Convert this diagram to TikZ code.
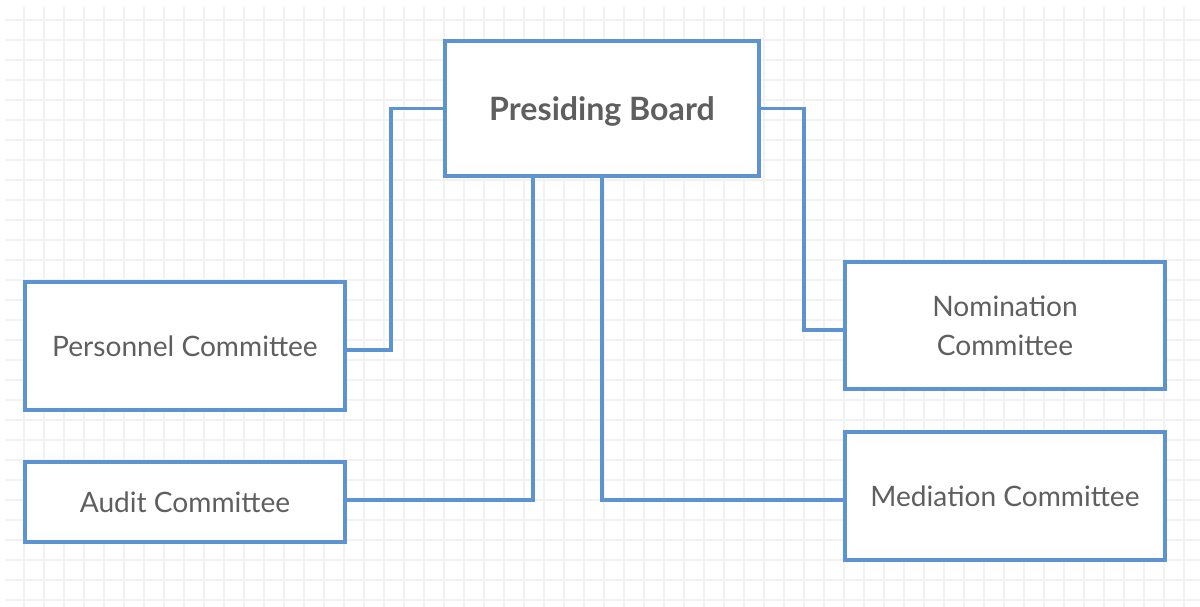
\documentclass[tikz,border=0pt]{standalone}
\usepackage{fontspec}
\setmainfont{Lato}
\definecolor{boxblue}{RGB}{92,147,208}
\definecolor{textgray}{RGB}{95,95,95}
\definecolor{gridgray}{RGB}{242,242,242}
\tikzset{
  unit/.style={draw=boxblue, line width=2.1pt, fill=white, text=textgray,
    inner sep=0pt, align=center, font=\fontsize{16}{22}\selectfont},
  link/.style={draw=boxblue, line width=2.1pt}
}
\begin{document}
\begin{tikzpicture}[x=0.02cm, y=-0.02cm]
    \useasboundingbox (0,0) rectangle (1200,607);
    % Cuadrícula
    \fill[white] (0,0) rectangle (1200,607);
    \begin{scope}
      \clip (5,7) rectangle (1200,607);
      \foreach \gx in {24,44,...,1184} \draw[gridgray, line width=0.6pt] (\gx,7) -- (\gx,607);
      \foreach \gy in {20,40,...,600} \draw[gridgray, line width=0.6pt] (5,\gy) -- (1200,\gy);
    \end{scope}

    % Comités
    \node[unit, minimum width=6.28cm, minimum height=2.7cm, text depth=0pt,
      font=\fontsize{18.3}{22}\selectfont\bfseries] (board) at (602,108.5) {Presiding Board};
    \node[unit, minimum width=6.4cm, minimum height=2.56cm] (personnel) at (185,346) {Personnel Committee};
    \node[unit, minimum width=6.4cm, minimum height=1.6cm] (audit) at (185,502) {Audit Committee};
    \node[unit, minimum width=6.4cm, minimum height=2.54cm] (nomination) at (1005,325.5) {Nomination\\Committee};
    \node[unit, minimum width=6.4cm, minimum height=2.56cm] (mediation) at (1005,496) {Mediation Committee};

    % Conexiones
    \draw[link] (board.west) -- ++(-52,0) |- ([yshift=-0.08cm]personnel.east);
    \draw[link] ([xshift=-1.38cm]board.south) |- ([yshift=0.04cm]audit.east);
    \draw[link] (board.south) |- ([yshift=-0.08cm]mediation.west);
    \draw[link] (board.east) -- ++(43,0) |- ([yshift=-0.09cm]nomination.west);
\end{tikzpicture}
\end{document}
